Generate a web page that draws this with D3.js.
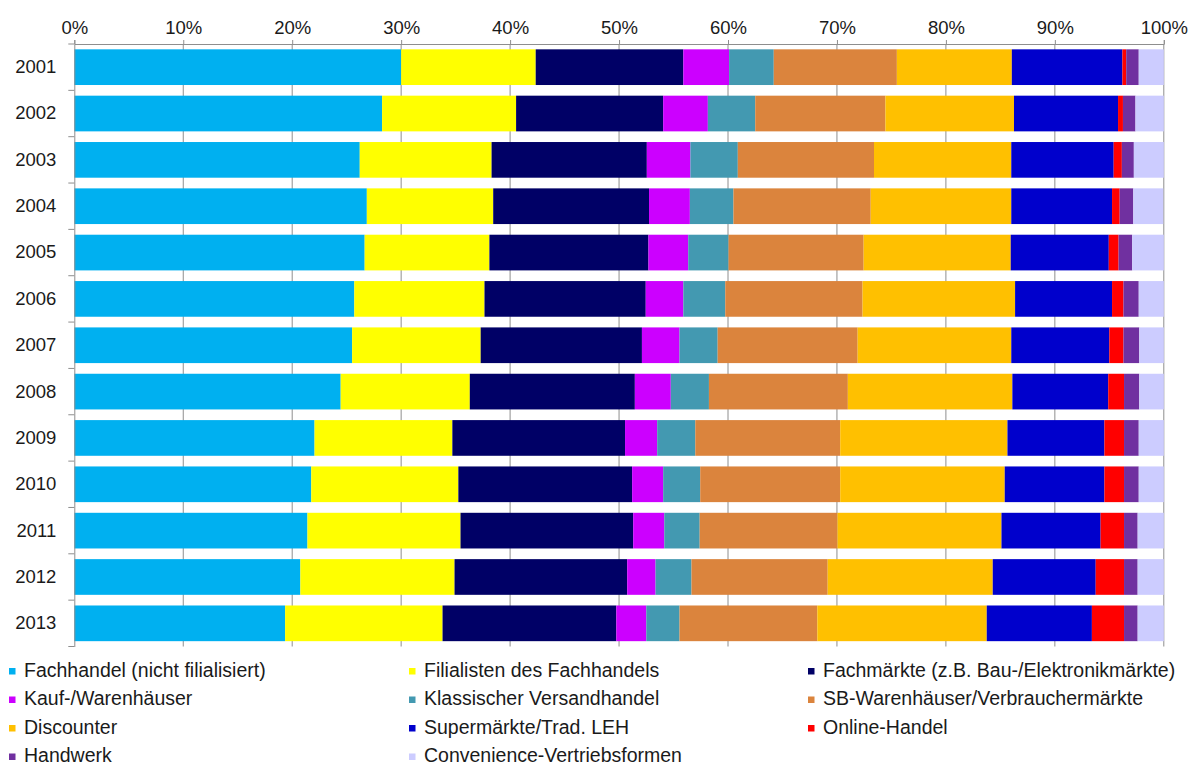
<!DOCTYPE html>
<html>
<head>
<meta charset="utf-8">
<script src="https://cdn.jsdelivr.net/npm/d3@7/dist/d3.min.js"></script>
<style>
  html, body { margin: 0; padding: 0; background: #fff; }
  svg { display: block; }
  text { font-family: "Liberation Sans", Arial, sans-serif; fill: #1a1a1a; }
</style>
</head>
<body>
<svg id="chart" width="1196" height="769"></svg>
<script>
// ---- Data (percent shares) ----
const years = ["2001","2002","2003","2004","2005","2006","2007","2008","2009","2010","2011","2012","2013"];
const xTicks = [0,10,20,30,40,50,60,70,80,90,100];

const seriesNames = [
  "Fachhandel (nicht filialisiert)",
  "Filialisten des Fachhandels",
  "Fachmärkte (z.B. Bau-/Elektronikmärkte)",
  "Kauf-/Warenhäuser",
  "Klassischer Versandhandel",
  "SB-Warenhäuser/Verbrauchermärkte",
  "Discounter",
  "Supermärkte/Trad. LEH",
  "Online-Handel",
  "Handwerk",
  "Convenience-Vertriebsformen"
];
const seriesColors = ["#00B0F0","#FFFF00","#000066","#CC00FF","#4399B1","#DB843D","#FFC000","#0000CC","#FF0000","#7030A0","#CCCCFF"];

const fachhandel   = [30.0, 28.25, 26.2, 26.85, 26.65, 25.7, 25.5, 24.45, 22.05, 21.75, 21.4, 20.75, 19.35];
const filialisten  = [12.35, 12.3, 12.1, 11.6, 11.45, 11.95, 11.8, 11.85, 12.65, 13.5, 14.05, 14.15, 14.45];
const fachmaerkte  = [13.55, 13.5, 14.25, 14.3, 14.6, 14.8, 14.8, 15.15, 15.85, 15.95, 15.85, 15.85, 15.95];
const kaufhaeuser  = [4.2, 4.1, 4.0, 3.75, 3.65, 3.45, 3.45, 3.3, 2.95, 2.85, 2.85, 2.6, 2.75];
const versand      = [4.1, 4.35, 4.35, 4.0, 3.7, 3.85, 3.5, 3.5, 3.5, 3.4, 3.25, 3.3, 3.05];
const sbWaren      = [11.3, 11.95, 12.5, 12.6, 12.4, 12.6, 12.85, 12.75, 13.3, 12.85, 12.65, 12.5, 12.65];
const discounter   = [10.55, 11.8, 12.6, 12.9, 13.5, 14.0, 14.1, 15.1, 15.35, 15.1, 15.05, 15.15, 15.55];
const supermaerkte = [10.15, 9.55, 9.4, 9.25, 9.0, 8.9, 9.0, 8.8, 8.9, 9.15, 9.1, 9.45, 9.65];
const online       = [0.35, 0.45, 0.75, 0.7, 0.9, 1.05, 1.3, 1.45, 1.8, 1.8, 2.15, 2.6, 2.95];
const handwerk     = [1.15, 1.15, 1.1, 1.25, 1.25, 1.4, 1.45, 1.4, 1.35, 1.35, 1.25, 1.25, 1.25];
const convenience  = [2.3, 2.6, 2.75, 2.75, 2.9, 2.3, 2.25, 2.25, 2.3, 2.3, 2.4, 2.4, 2.4];

const seriesValues = [fachhandel, filialisten, fachmaerkte, kaufhaeuser, versand, sbWaren,
                      discounter, supermaerkte, online, handwerk, convenience];

// ---- Build table for d3.stack ----
const table = years.map((yr, i) => {
  const row = { year: yr };
  seriesNames.forEach((n, k) => { row[n] = seriesValues[k][i]; });
  return row;
});

const svg = d3.select("#chart");
const plotLeft = 74.3, plotRight = 1163.8, plotTop = 44, plotBottom = 646.5;

const x = d3.scaleLinear().domain([0, 100]).range([plotLeft, plotRight]);
const y = d3.scaleBand().domain(years).range([plotTop, plotBottom]).paddingInner(0.23).paddingOuter(0.115);

const stack = d3.stack().keys(seriesNames);
const layers = stack(table);

const gridColor = "#8e8e8e";

// gridlines
svg.append("g").selectAll("line").data(xTicks.filter(t => t > 0)).join("line")
  .attr("x1", d => x(d)).attr("x2", d => x(d))
  .attr("y1", plotTop).attr("y2", plotBottom)
  .attr("stroke", gridColor).attr("stroke-width", 1);

// bars
const color = d3.scaleOrdinal().domain(seriesNames).range(seriesColors);
svg.append("g").selectAll("g").data(layers).join("g")
  .attr("fill", d => color(d.key))
  .selectAll("rect").data(d => d).join("rect")
  .attr("x", d => x(d[0]))
  .attr("width", d => x(d[1]) - x(d[0]))
  .attr("y", d => y(d.data.year))
  .attr("height", y.bandwidth());

// top axis
const xAxis = d3.axisTop(x).tickValues(xTicks).tickFormat(d => d + "%").tickSize(4).tickPadding(6);
const gx = svg.append("g").attr("transform", `translate(0,${plotTop})`).call(xAxis);
gx.select(".domain").attr("stroke", gridColor);
gx.selectAll(".tick line").attr("stroke", gridColor);
gx.selectAll(".tick text").style("font-size", "18.5px").attr("fill", "#1a1a1a")
  .style("font-family", '"Liberation Sans", Arial, sans-serif');

// left axis
const yAxis = d3.axisLeft(y).tickSize(0).tickPadding(18);
const gy = svg.append("g").attr("transform", `translate(${plotLeft},0)`).call(yAxis);
gy.select(".domain").attr("stroke", gridColor);
gy.selectAll(".tick text").style("font-size", "18.5px").attr("fill", "#1a1a1a")
  .style("font-family", '"Liberation Sans", Arial, sans-serif');

// left tick marks at band boundaries
const step = y.step();
const boundaries = years.map(yr => y(yr) - (step - y.bandwidth()) / 2);
boundaries.push(plotBottom);
svg.append("g").selectAll("line").data(boundaries).join("line")
  .attr("x1", plotLeft - 6).attr("x2", plotLeft)
  .attr("y1", d => d).attr("y2", d => d)
  .attr("stroke", gridColor);

// legend
const colX = [9, 409, 808];
const rowY = [676.5, 705, 733.5, 762];
const legend = svg.append("g").selectAll("g").data(seriesNames).join("g")
  .attr("transform", (d, i) => `translate(${colX[i % 3]},${rowY[Math.floor(i / 3)]})`);
legend.append("rect")
  .attr("x", 0).attr("y", -8.5).attr("width", 6.5).attr("height", 6.5)
  .attr("fill", d => color(d));
legend.append("text")
  .attr("x", 15).attr("y", 0)
  .style("font-size", "19.5px")
  .text(d => d);
</script>
</body>
</html>
